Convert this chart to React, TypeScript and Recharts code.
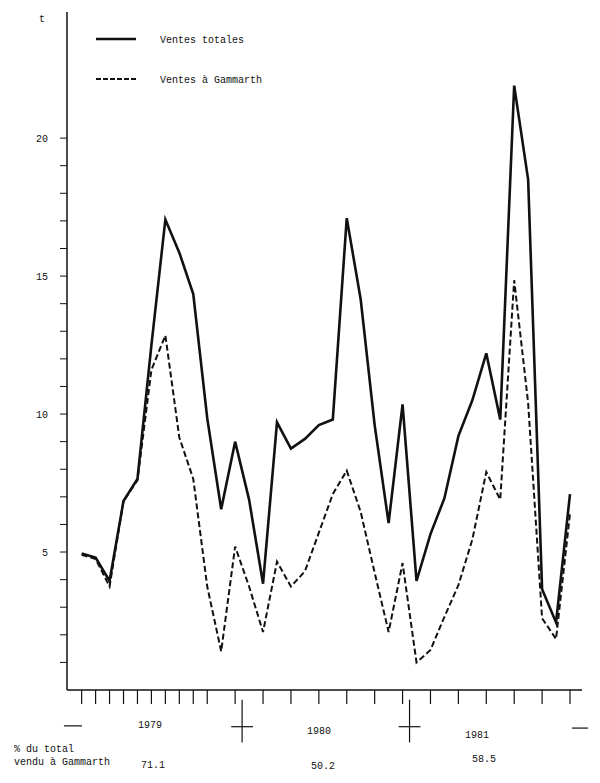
import { LineChart, Line, XAxis, YAxis, ReferenceLine } from "recharts";

// Ventes mensuelles (t), janvier 1979 -> décembre 1981
const VENTES_TOTALES = [
  4.95, 4.8, 3.95, 6.85, 7.65, 12.5, 17.05, 15.85, 14.35, 9.85, 6.55, 9.0,
  6.9, 3.85, 9.7, 8.75, 9.1, 9.6, 9.8, 17.1, 14.15, 9.6, 6.05, 10.35,
  3.95, 5.65, 6.95, 9.2, 10.5, 12.2, 9.8, 21.9, 18.5, 3.65, 2.45, 7.1,
];
const VENTES_GAMMARTH = [
  4.9, 4.75, 3.75, 6.85, 7.6, 11.6, 12.85, 9.15, 7.65, 3.75, 1.4, 5.2,
  3.75, 2.1, 4.65, 3.75, 4.3, 5.7, 7.1, 7.95, 6.45, 4.25, 2.1, 4.6,
  1.0, 1.45, 2.65, 3.8, 5.45, 7.9, 6.9, 14.85, 10.4, 2.6, 1.85, 6.4,
];
const ANNEES = ["1979", "1980", "1981"];
const PART_GAMMARTH = ["71.1", "50.2", "58.5"];

const MOIS = VENTES_TOTALES.map((_, i) => i);
const Y_TICKS = [1, 2, 3, 4, 5, 6, 7, 8, 9, 10, 11, 12, 13, 14, 15, 16, 17, 18, 19, 20];

// séparations entre années (en mois)
const SEPARATIONS = [11.5, 23.5];

const FONT = '"Liberation Mono", "Courier New", monospace';
const INK = "#111";

const data = MOIS.map((m) => ({
  mois: m,
  totales: VENTES_TOTALES[m],
  gammarth: VENTES_GAMMARTH[m],
}));

// positions du texte sous l'axe (pixels)
const POS_ANNEES = [
  { x: 150, y: 724 },
  { x: 319, y: 730 },
  { x: 477, y: 734 },
];
const POS_PARTS = [
  { x: 153, y: 764 },
  { x: 323, y: 765 },
  { x: 484, y: 758 },
];

function TickY({ x, y, payload }: any) {
  if (payload.value % 5 !== 0) return null;
  return (
    <text x={x} y={y} dy={3.5} textAnchor="end" fontFamily={FONT} fontSize={10} fill={INK}>
      {payload.value}
    </text>
  );
}

const SansTexte = () => <g />;

export default function App() {
  return (
    <div style={{ position: "absolute", left: 0, top: 0, width: 600, height: 783, background: "#fff" }}>
      <LineChart width={600} height={783} data={data} margin={{ top: 12, right: 18, bottom: 0, left: 0 }}>
        <XAxis
          dataKey="mois"
          type="number"
          domain={[-1.05, 35.86]}
          allowDataOverflow
          ticks={MOIS}
          height={93}
          tick={<SansTexte />}
          tickSize={14}
          tickLine={{ stroke: INK, strokeWidth: 1.2 }}
          axisLine={{ stroke: INK, strokeWidth: 1.5 }}
        />
        <YAxis
          type="number"
          domain={[0, 24.57]}
          allowDataOverflow
          ticks={Y_TICKS}
          width={67}
          tickSize={7}
          tickMargin={12}
          tick={<TickY />}
          tickLine={{ stroke: INK, strokeWidth: 1 }}
          axisLine={{ stroke: INK, strokeWidth: 1.5 }}
        />

        {SEPARATIONS.map((s) => (
          <ReferenceLine
            key={`v-${s}`}
            segment={[{ x: s, y: -0.35 }, { x: s, y: -1.9 }]}
            stroke={INK}
            strokeWidth={1.2}
            ifOverflow="visible"
          />
        ))}
        {SEPARATIONS.map((s) => (
          <ReferenceLine
            key={`h-${s}`}
            segment={[{ x: s - 0.78, y: -1.33 }, { x: s + 0.78, y: -1.33 }]}
            stroke={INK}
            strokeWidth={1.2}
            ifOverflow="visible"
          />
        ))}
        <ReferenceLine
          segment={[{ x: -1.27, y: -1.3 }, { x: 0.02, y: -1.3 }]}
          stroke={INK}
          strokeWidth={1.2}
          ifOverflow="visible"
        />
        <ReferenceLine
          segment={[{ x: 35.15, y: -1.38 }, { x: 36.3, y: -1.38 }]}
          stroke={INK}
          strokeWidth={1.2}
          ifOverflow="visible"
        />

        <Line
          type="linear"
          dataKey="totales"
          stroke={INK}
          strokeWidth={2.6}
          dot={false}
          isAnimationActive={false}
        />
        <Line
          type="linear"
          dataKey="gammarth"
          stroke={INK}
          strokeWidth={2}
          strokeDasharray="6 3"
          dot={false}
          isAnimationActive={false}
        />
      </LineChart>

      {/* légende et annotations dactylographiées */}
      <svg
        width={600}
        height={783}
        style={{ position: "absolute", left: 0, top: 0, pointerEvents: "none" }}
        fontFamily={FONT}
        fontSize={10}
        fill={INK}
      >
        <text x={39} y={18} dy={3.5}>t</text>

        <line x1={96} y1={39} x2={136} y2={39} stroke={INK} strokeWidth={2.4} />
        <text x={160} y={39} dy={3.5}>Ventes totales</text>
        <line x1={96} y1={79} x2={136} y2={79} stroke={INK} strokeWidth={2} strokeDasharray="5 2" />
        <text x={160} y={79} dy={3.5}>Ventes à Gammarth</text>

        {ANNEES.map((a, i) => (
          <text key={a} x={POS_ANNEES[i].x} y={POS_ANNEES[i].y} dy={3.5} textAnchor="middle">
            {a}
          </text>
        ))}
        <text x={14} y={748} dy={3.5}>% du total</text>
        <text x={14} y={761} dy={3.5}>vendu à Gammarth</text>
        {PART_GAMMARTH.map((p, i) => (
          <text key={p} x={POS_PARTS[i].x} y={POS_PARTS[i].y} dy={3.5} textAnchor="middle">
            {p}
          </text>
        ))}
      </svg>
    </div>
  );
}
